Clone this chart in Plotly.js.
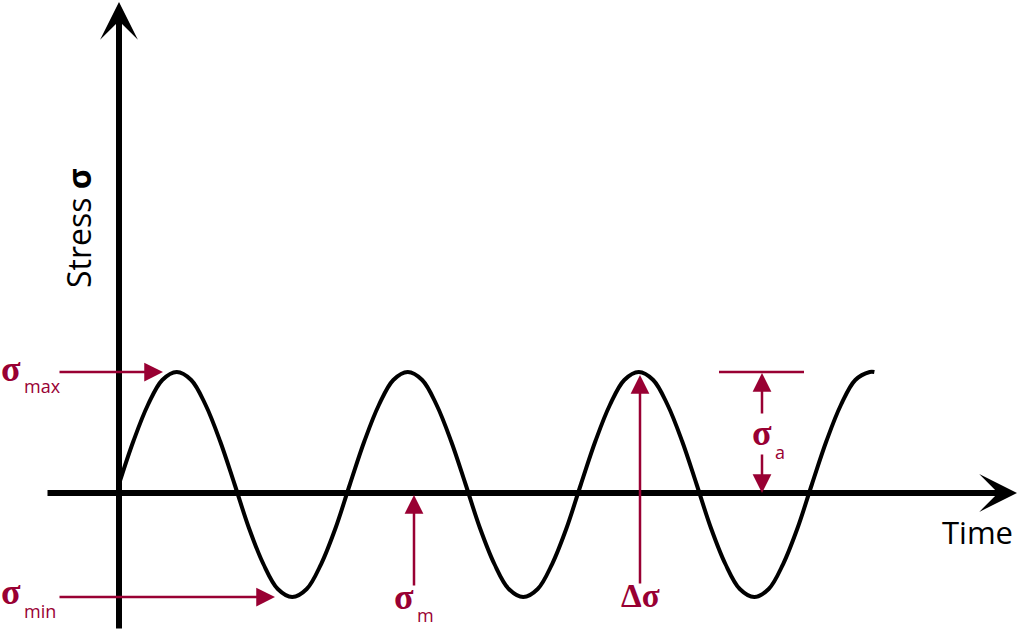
<!DOCTYPE html>
<html>
<head>
<meta charset="utf-8">
<script src="https://cdn.plot.ly/plotly-3.0.1.min.js"></script>
<style>
  html, body { margin: 0; padding: 0; background: #fff; }
  #chart { width: 1020px; height: 632px; }
</style>
</head>
<body>
<div id="chart"></div>
<script>
// time in cycles, stress in arbitrary units (mean sits a little above the axis)
var time = [0, 0.0625, 0.125, 0.1875, 0.25, 0.3125, 0.375, 0.4375,
            0.5, 0.5625, 0.625, 0.6875, 0.75, 0.8125, 0.875, 0.9375,
            1, 1.0625, 1.125, 1.1875, 1.25, 1.3125, 1.375, 1.4375,
            1.5, 1.5625, 1.625, 1.6875, 1.75, 1.8125, 1.875, 1.9375,
            2, 2.0625, 2.125, 2.1875, 2.25, 2.3125, 2.375, 2.4375,
            2.5, 2.5625, 2.625, 2.6875, 2.75, 2.8125, 2.875, 2.9375,
            3, 3.0625, 3.125, 3.1875, 3.25, 3.27];
var stress = [9, 52, 88, 113, 121, 113, 88, 52,
              9, -35, -71, -96, -104, -96, -71, -35,
              9, 52, 88, 113, 121, 113, 88, 52,
              9, -35, -71, -96, -104, -96, -71, -35,
              9, 52, 88, 113, 121, 113, 88, 52,
              9, -35, -71, -96, -104, -96, -71, -35,
              9, 52, 88, 113, 121, 121];

var sMax = 121, sMin = -104, sZero = 0;

var RED = '#990033';
var FONT = 'Open Sans, Noto Sans, sans-serif';
var SERIF = 'Liberation Serif, DejaVu Serif, serif';

// page pixel -> axis units, used only to place the drawing furniture
var W = 1020, H = 632, X0 = 119, PER = 231, Y0 = 493;
function px(p){ return (p - X0) / PER; }
function py(p){ return Y0 - p; }

var data = [{
  type: 'scatter',
  mode: 'lines',
  x: time,
  y: stress,
  line: {color: '#000', width: 4, shape: 'spline', smoothing: 1},
  hoverinfo: 'skip'
}];

function arrow(x, y, ax, ay, color, width, head, size){
  return {x: x, y: y, ax: ax, ay: ay, xref: 'x', yref: 'y', axref: 'x', ayref: 'y',
    text: '', showarrow: true, arrowhead: head, arrowsize: size, arrowwidth: width,
    arrowcolor: color, standoff: 0};
}
function label(text, x, y, size, xanchor, family){
  return {x: x, y: y, xref: 'x', yref: 'y', text: text, showarrow: false,
    xanchor: xanchor || 'center', yanchor: 'middle',
    font: {family: family || FONT, size: size, color: RED}};
}

var ann = [];
// axes
ann.push(arrow(0, py(2), 0, py(630), '#000', 6, 3, 1.05));
ann.push(arrow(px(1017), sZero, px(46), sZero, '#000', 6, 3, 1.05));

// sigma max / min
ann.push(arrow(px(163), sMax, px(58), sMax, RED, 2.5, 2, 1.5));
ann.push(arrow(px(275), sMin, px(58), sMin, RED, 2.5, 2, 1.5));
// sigma m
ann.push(arrow(px(414), py(495), px(414), py(587), RED, 2.5, 2, 1.5));
// delta sigma
ann.push(arrow(px(640), py(375), px(640), py(585), RED, 2.5, 2, 1.5));
// sigma a
ann.push(arrow(px(762), sMax - 1, px(762), py(415), RED, 2.5, 2, 1.5));
ann.push(arrow(px(762), sZero, px(762), py(453), RED, 2.5, 2, 1.5));

// red labels
ann.push(label('<b>σ</b>', px(11), py(369), 36, 'center', SERIF));
ann.push(label('max', px(22), py(386), 18, 'left'));
ann.push(label('<b>σ</b>', px(11), py(592), 36, 'center', SERIF));
ann.push(label('min', px(22), py(611), 18, 'left'));
ann.push(label('<b>σ</b>', px(404), py(597), 36, 'center', SERIF));
ann.push(label('m', px(425), py(615), 18));
ann.push(label('<b>Δσ</b>', px(640), py(596), 33, 'center', SERIF));
ann.push(label('<b>σ</b>', px(762), py(433), 36, 'center', SERIF));
ann.push(label('a', px(780), py(452), 18));

// axis titles
ann.push({x: px(977), y: py(532), xref: 'x', yref: 'y', text: 'Time', showarrow: false,
  xanchor: 'center', yanchor: 'middle', font: {family: FONT, size: 31, color: '#000'}});
ann.push({x: px(78), y: py(228), xref: 'x', yref: 'y', text: 'Stress <b>σ</b>', showarrow: false,
  textangle: -90, xanchor: 'center', yanchor: 'middle', font: {family: FONT, size: 32, color: '#000'}});

var shapes = [{
  type: 'line', xref: 'x', yref: 'y',
  x0: px(719), x1: px(804), y0: sMax, y1: sMax,
  line: {color: RED, width: 2.5}
}];

var layout = {
  width: W,
  height: H,
  margin: {l: 0, r: 0, t: 0, b: 0, pad: 0},
  paper_bgcolor: '#fff',
  plot_bgcolor: '#fff',
  showlegend: false,
  xaxis: {range: [px(0), px(W)], visible: false, fixedrange: true},
  yaxis: {range: [py(H), py(0)], visible: false, fixedrange: true},
  annotations: ann,
  shapes: shapes
};

Plotly.newPlot('chart', data, layout, {staticPlot: true, displayModeBar: false});
</script>
</body>
</html>
